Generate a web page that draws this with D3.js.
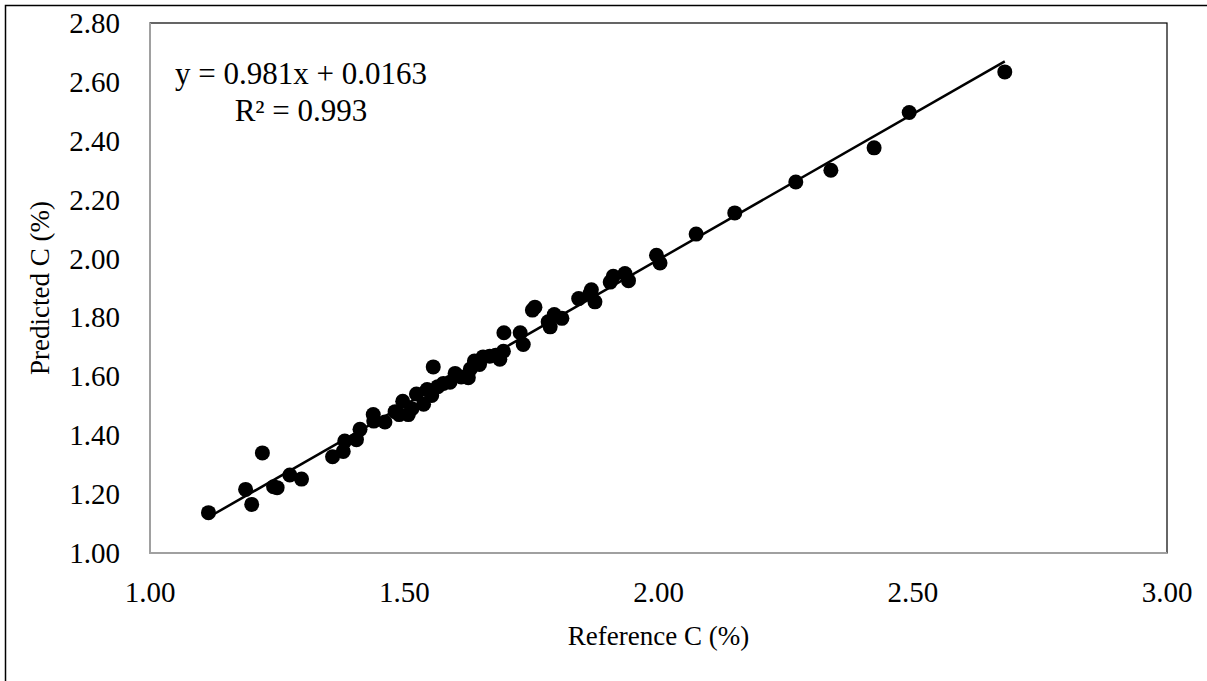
<!DOCTYPE html>
<html>
<head>
<meta charset="utf-8">
<script src="https://cdn.jsdelivr.net/npm/d3@7"></script>
<style>
  body { margin: 0; background: #fff; }
  svg { display: block; font-family: "Liberation Serif", "Times New Roman", serif; }
</style>
</head>
<body>
<svg id="chart" width="1207" height="681"></svg>
<script>
// reference vs predicted carbon (%)
const referenceC = [
  1.115, 1.188, 1.200, 1.221, 1.243, 1.250, 1.275, 1.298, 1.359, 1.380,
  1.383, 1.406, 1.413, 1.439, 1.440, 1.462, 1.482, 1.490, 1.497, 1.508,
  1.515, 1.524, 1.538, 1.545, 1.554, 1.557, 1.566, 1.577, 1.590, 1.600,
  1.612, 1.626, 1.630, 1.638, 1.648, 1.655, 1.668, 1.680, 1.688, 1.695,
  1.696, 1.728, 1.734, 1.752, 1.757, 1.783, 1.787, 1.795, 1.810, 1.843,
  1.865, 1.868, 1.875, 1.905, 1.911, 1.934, 1.941, 1.996, 2.003, 2.074,
  2.150, 2.270, 2.339, 2.424, 2.493, 2.681
];
const predictedC = [
  1.137, 1.216, 1.165, 1.340, 1.225, 1.222, 1.265, 1.251, 1.327, 1.345,
  1.380, 1.385, 1.420, 1.470, 1.448, 1.445, 1.480, 1.470, 1.515, 1.470,
  1.490, 1.540, 1.505, 1.555, 1.535, 1.632, 1.565, 1.576, 1.580, 1.610,
  1.598, 1.595, 1.625, 1.652, 1.640, 1.666, 1.668, 1.672, 1.658, 1.685,
  1.748, 1.748, 1.708, 1.825, 1.835, 1.785, 1.768, 1.810, 1.797, 1.864,
  1.880, 1.894, 1.853, 1.920, 1.940, 1.949, 1.925, 2.011, 1.985, 2.083,
  2.155, 2.260, 2.300, 2.376, 2.496, 2.634
];
const xTicks = [1.00, 1.50, 2.00, 2.50, 3.00];
const yTicks = [1.00, 1.20, 1.40, 1.60, 1.80, 2.00, 2.20, 2.40, 2.60, 2.80];
const equationLines = ["y = 0.981x + 0.0163", "R² = 0.993"];

const svg = d3.select("#chart");
const margin = { left: 150, top: 23, right: 1167, bottom: 553 };

const x = d3.scaleLinear().domain([1, 3]).range([margin.left, margin.right]);
const y = d3.scaleLinear().domain([1, 2.8]).range([margin.bottom, margin.top]);

// outer chart frame (right/bottom edges fall outside the picture)
svg.append("rect")
  .attr("x", 5.5).attr("y", 5.5)
  .attr("width", 1220).attr("height", 700)
  .attr("fill", "none").attr("stroke", "#000").attr("stroke-width", 1.5);

// plot area border
svg.append("rect")
  .attr("x", margin.left).attr("y", margin.top)
  .attr("width", margin.right - margin.left)
  .attr("height", margin.bottom - margin.top)
  .attr("fill", "none").attr("stroke", "#000").attr("stroke-width", 1.2);

// axes lines (gray)
svg.append("line")
  .attr("x1", margin.left).attr("x2", margin.right)
  .attr("y1", margin.bottom).attr("y2", margin.bottom)
  .attr("stroke", "#a0a0a0").attr("stroke-width", 2);
svg.append("line")
  .attr("x1", margin.left).attr("x2", margin.left)
  .attr("y1", margin.top).attr("y2", margin.bottom)
  .attr("stroke", "#a0a0a0").attr("stroke-width", 2);

// tick labels
svg.append("g")
  .attr("font-size", 29).attr("text-anchor", "middle")
  .selectAll("text")
  .data(xTicks)
  .join("text")
  .attr("x", d => x(d))
  .attr("y", margin.bottom + 49)
  .text(d => d.toFixed(2));

svg.append("g")
  .attr("font-size", 29).attr("text-anchor", "end")
  .selectAll("text")
  .data(yTicks)
  .join("text")
  .attr("x", 120)
  .attr("y", d => y(d) + 10)
  .text(d => d.toFixed(2));

// axis titles
svg.append("text")
  .attr("x", (margin.left + margin.right) / 2)
  .attr("y", 645)
  .attr("text-anchor", "middle")
  .attr("font-size", 27)
  .text("Reference C (%)");

svg.append("text")
  .attr("transform", `translate(49,${(margin.top + margin.bottom) / 2}) rotate(-90)`)
  .attr("text-anchor", "middle")
  .attr("font-size", 27)
  .text("Predicted C (%)");

// linear trend line fitted on the data
const mx = d3.mean(referenceC), my = d3.mean(predictedC);
const slope = d3.sum(referenceC, (v, i) => (v - mx) * (predictedC[i] - my)) /
              d3.sum(referenceC, v => (v - mx) * (v - mx));
const icpt = my - slope * mx;
const ext = d3.extent(referenceC);

svg.append("line")
  .attr("x1", x(ext[0])).attr("y1", y(slope * ext[0] + icpt))
  .attr("x2", x(ext[1])).attr("y2", y(slope * ext[1] + icpt))
  .attr("stroke", "#000").attr("stroke-width", 2.5);

// points
svg.append("g")
  .selectAll("circle")
  .data(referenceC.map((v, i) => [v, predictedC[i]]))
  .join("circle")
  .attr("cx", d => x(d[0]))
  .attr("cy", d => y(d[1]))
  .attr("r", 7.5)
  .attr("fill", "#000");

// equation label
svg.append("g")
  .attr("font-size", 31).attr("text-anchor", "middle")
  .selectAll("text")
  .data(equationLines)
  .join("text")
  .attr("x", 301)
  .attr("y", (d, i) => 84 + i * 37)
  .text(d => d);
</script>
</body>
</html>
